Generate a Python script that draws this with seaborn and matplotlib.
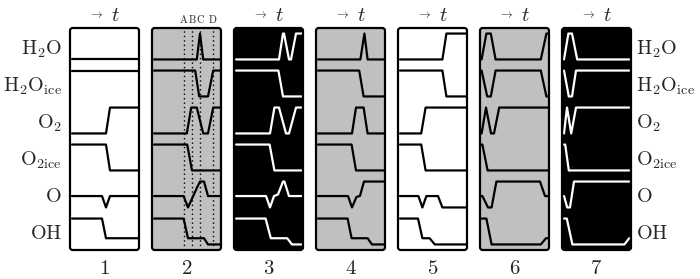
import matplotlib
matplotlib.use("Agg")
import matplotlib.pyplot as plt
from matplotlib.patches import FancyBboxPatch
import seaborn as sns
import pandas as pd

sns.set_theme(style="white")
plt.rcParams["mathtext.fontset"] = "cm"
plt.rcParams["font.family"] = ["DejaVu Serif", "DejaVu Sans"]

# ---------------- data ----------------
species = ["H2O", "H2Oice", "O2", "O2ice", "O", "OH"]
left_labels = [r"$\mathrm{H_2O}$", r"$\mathrm{H_2O_{ice}}$", r"$\mathrm{O_2}$",
               r"$\mathrm{O_{2ice}}$", r"$\mathrm{O}$", r"$\mathrm{OH}$"]
panel_numbers = ["1", "2", "3", "4", "5", "6", "7"]
backgrounds = ["white", "#c0c0c0", "black", "#c0c0c0", "white", "#c0c0c0", "black"]
line_colors = ["black", "black", "white", "black", "black", "black", "white"]
marker_times = [8.0, 10.1, 12.0, 15.2]          # dotted lines in panel 2
marker_names = ["A", "B", "C", "D"]

# (time, relative level) pairs for each species in each panel
panel1 = {
    "H2O":    [(0.5, 0), (17, 0)],
    "H2Oice": [(0.5, 1), (17, 1)],
    "O2":     [(0.5, 0), (9, 0), (10, 1), (17, 1)],
    "O2ice":  [(0.5, 1), (9, 1), (10, 0), (17, 0)],
    "O":      [(0.5, .44), (8, .44), (9, 0), (10, .44), (17, .44)],
    "OH":     [(0.5, 1), (8, 1), (9, .24), (17, .24)],
}
panel2 = {
    "H2O":    [(0.5, 0), (11.2, 0), (12, 1), (12.8, 0), (17, 0)],
    "H2Oice": [(0.5, 1), (10.8, 1), (11.8, 0), (14, 0), (15.3, 1), (17, 1)],
    "O2":     [(0.5, 0), (8.7, 0), (9.8, 1), (11.2, 1), (12.8, 0), (14, 0), (15.3, 1), (17, 1)],
    "O2ice":  [(0.5, 1), (8.8, 1), (10, 0), (17, 0)],
    "O":      [(0.5, .44), (7.9, .44), (9, 0), (11.2, .75), (12, 1), (13, 1), (14, .44), (17, .44)],
    "OH":     [(0.5, 1), (7.9, 1), (9, .24), (13, .24), (14, 0), (17, 0)],
}
panel3 = {
    "H2O":    [(0.5, 0), (11.25, 0), (12.25, 1), (12.5, 1), (13.75, 0), (14.25, 0), (15.5, 1), (17, 1)],
    "H2Oice": [(0.5, 1), (11.1, 1), (12.25, 0), (17, 0)],
    "O2":     [(0.5, 0), (9, 0), (10.1, 1), (11.25, 1), (13, 0), (13.75, 0), (15.5, 1), (17, 1)],
    "O2ice":  [(0.5, 1), (8.9, 1), (10.1, 0), (17, 0)],
    "O":      [(0.5, .44), (8, .44), (9, 0), (10, .44), (11, .5), (12.25, 1), (12.6, 1), (13.75, .44), (17, .44)],
    "OH":     [(0.5, 1), (7.9, 1), (9.2, .24), (13.3, .24), (14.5, 0), (17, 0)],
}
panel4 = {
    "H2O":    [(0.5, 0), (11.1, 0), (12.1, 1), (12.9, 0), (17, 0)],
    "H2Oice": [(0.5, 1), (10.8, 1), (11.9, 0), (17, 0)],
    "O2":     [(0.5, 0), (9, 0), (10, 1), (11.9, 1), (12.9, 0), (17, 0)],
    "O2ice":  [(0.5, 1), (8.9, 1), (10, 0), (17, 0)],
    "O":      [(0.5, .44), (8, .44), (9, 0), (10.1, .4), (11, .45), (12, 1), (17, 1)],
    "OH":     [(0.5, 1), (7.9, 1), (8.9, .24), (12.9, .24), (14, 0), (17, 0)],
}
panel5 = {
    "H2O":    [(0.5, 0), (11.1, 0), (12.1, 1), (17, 1)],
    "H2Oice": [(0.5, 1), (11.1, 1), (12.1, 0), (17, 0)],
    "O2":     [(0.5, 0), (5.8, 0), (6.9, 1), (17, 1)],
    "O2ice":  [(0.5, 1), (5.8, 1), (6.9, 0), (17, 0)],
    "O":      [(0.5, .44), (5.1, .44), (6.1, 0), (7.1, .44), (10, .44), (11.1, 0), (17, 0)],
    "OH":     [(0.5, 1), (5, 1), (6.1, .24), (7.9, .24), (9.2, 0), (17, 0)],
}
panel6 = {
    "H2O":    [(0.4, 0), (1.6, 1), (2.7, 1), (3.9, 0), (15.2, 0), (16.6, 1), (17, 1)],
    "H2Oice": [(0.4, 1), (1.8, 0), (2.7, 0), (3.9, 1), (15.2, 1), (16.6, 0), (17, 0)],
    "O2":     [(0.4, 0), (1.5, 1), (2.75, 0), (3.5, 0), (4.8, 1), (17, 1)],
    "O2ice":  [(0.4, 1), (0.6, 1), (1.9, 0), (17, 0)],
    "O":      [(0.4, .44), (0.6, .44), (2, 0), (2.9, 0), (4.1, 1), (15, 1), (16.25, .44), (17, .44)],
    "OH":     [(0.4, 1), (1.6, 1), (2.9, 0), (15.2, 0), (16.5, .24), (17, .24)],
}
panel7 = {
    "H2O":    [(0.5, 0), (1.6, 1), (2.5, 1), (3.8, 0), (16.8, 0)],
    "H2Oice": [(0.5, 1), (1.7, 0), (2.5, 0), (3.5, 1), (16.8, 1)],
    "O2":     [(0.5, 0), (1.25, 1), (2.3, 0), (3.5, 1), (16.8, 1)],
    "O2ice":  [(0.5, 1), (0.8, 1), (1.7, 0), (16.8, 0)],
    "O":      [(0.5, .44), (1.3, 0), (2, 0), (3, 1), (16.8, 1)],
    "OH":     [(0.5, 1), (1.2, 1), (2.6, 0), (15.6, 0), (16.8, .24)],
}
panels = [panel1, panel2, panel3, panel4, panel5, panel6, panel7]

# ---------------- layout ----------------
W, H = 700, 279
fig = plt.figure(figsize=(W / 100, H / 100), dpi=100)
box_top, box_bot = 28, 250
box_w = 69
lefts = [70 + 82 * i for i in range(7)]
band_h = (box_bot - box_top) / 6


def fx(px):
    return px / W


def fy(py):
    return 1 - py / H


for i, pdata in enumerate(panels):
    ax = fig.add_axes([fx(lefts[i]), fy(box_bot), box_w / W, (box_bot - box_top) / H])
    ax.set_axis_off()
    ax.set_xlim(0, box_w / 4)
    ax.set_ylim(0, 6)
    aspect = box_w / (box_bot - box_top)
    fill = FancyBboxPatch((0, 0), 1, 1, boxstyle="round,pad=0,rounding_size=0.04",
                          mutation_aspect=aspect, transform=ax.transAxes,
                          facecolor=backgrounds[i], edgecolor="none", zorder=0, clip_on=False)
    ax.add_patch(fill)
    rows = []
    for k, sp in enumerate(species):
        for t, v in pdata[sp]:
            rows.append({"t": t, "y": (5 - k) + 0.15 + 0.7 * v, "sp": sp})
    df = pd.DataFrame(rows)
    for sp in species:
        d = df[df["sp"] == sp]
        sns.lineplot(data=d, x="t", y="y", ax=ax, color=line_colors[i], linewidth=1.6,
                     sort=False, estimator=None, zorder=2)
    ax.set_xlim(0, box_w / 4)
    ax.set_ylim(0, 6)
    ax.set_axis_off()
    if i == 1:
        for mt, mn in zip(marker_times, marker_names):
            ax.axvline(mt, color="black", linestyle=(0, (1, 2.2)), linewidth=1.0, zorder=1)
            ax.text(mt, 6.08, r"$\mathrm{%s}$" % mn, ha="center", va="bottom",
                    fontsize=7.5, transform=ax.transData, clip_on=False)
    edge = FancyBboxPatch((0, 0), 1, 1, boxstyle="round,pad=0,rounding_size=0.04",
                          mutation_aspect=aspect, transform=ax.transAxes,
                          facecolor="none", edgecolor="black", linewidth=1.6, zorder=3,
                          clip_on=False)
    ax.add_patch(edge)

    cx = lefts[i] + box_w / 2
    fig.text(fx(cx), fy(273.5), r"$\mathrm{%s}$" % panel_numbers[i], ha="center",
             va="baseline", fontsize=15)
    if i != 1:
        fig.text(fx(cx - 9), fy(18.5), r"$\rightarrow$", ha="center", va="baseline",
                 fontsize=8.5)
        fig.text(fx(cx + 11), fy(21), r"$t$", ha="center", va="baseline", fontsize=15)

for k, lab in enumerate(left_labels):
    yb = box_top + band_h * (k + 0.5) + 7.5
    fig.text(fx(62), fy(yb), lab, ha="right", va="baseline", fontsize=14.5)
    fig.text(fx(636), fy(yb), lab, ha="left", va="baseline", fontsize=14.5)

fig.savefig("out.png", dpi=100)
